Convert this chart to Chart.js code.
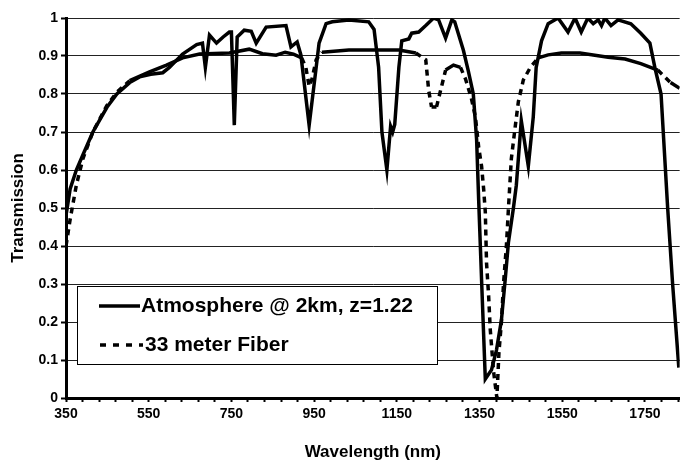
<!DOCTYPE html>
<html><head><meta charset="utf-8">
<script src="https://cdn.jsdelivr.net/npm/chart.js@4/dist/chart.umd.min.js"></script>
<style>html,body{margin:0;padding:0;background:#fff}#wrap{width:682px;height:463px;position:relative}</style>
</head><body><div id="wrap"><canvas id="c" width="682" height="463"></canvas></div>
<script>
const seriesNames = ['Atmosphere @ 2km, z=1.22', '33 meter Fiber'];
const atmWavelength = [350,360,375,391,415,449,473,504,528,555,584,600,632,666,680,687,697,714,730,745,750,757,764,781,798,810,834,882,894,909,918,938,955,962,979,994,1034,1082,1095,1106,1114,1126,1135,1140,1145,1155,1162,1179,1186,1203,1220,1239,1251,1268,1283,1290,1311,1323,1335,1343,1348,1355,1364,1379,1391,1403,1412,1420,1432,1439,1451,1468,1480,1487,1500,1516,1540,1564,1581,1596,1612,1625,1637,1645,1653,1668,1685,1716,1740,1762,1774,1789,1805,1817,1832];
const atmTransmission = [0.48,0.55,0.60,0.64,0.70,0.765,0.80,0.83,0.845,0.852,0.856,0.87,0.905,0.93,0.934,0.87,0.955,0.934,0.95,0.963,0.963,0.718,0.95,0.968,0.965,0.934,0.976,0.98,0.924,0.937,0.903,0.718,0.87,0.934,0.985,0.99,0.995,0.99,0.97,0.87,0.70,0.60,0.715,0.70,0.72,0.87,0.94,0.945,0.96,0.963,0.98,1.0,0.995,0.947,0.995,0.99,0.915,0.86,0.80,0.68,0.52,0.31,0.05,0.074,0.126,0.205,0.31,0.41,0.50,0.56,0.73,0.61,0.74,0.87,0.94,0.985,1.0,0.963,1.0,0.963,1.0,0.985,0.995,0.98,1.0,0.98,0.995,0.985,0.96,0.934,0.87,0.80,0.50,0.30,0.08];
const fiberWavelength = [350,360,375,391,415,449,473,504,552,593,632,673,745,793,825,858,880,900,920,930,938,945,955,969,1034,1155,1196,1220,1227,1234,1246,1256,1268,1287,1304,1316,1330,1340,1348,1355,1360,1364,1367,1372,1376,1384,1392,1397,1403,1408,1415,1420,1427,1437,1444,1456,1473,1492,1516,1548,1593,1661,1702,1740,1781,1812,1834];
const fiberTransmission = [0.40,0.47,0.56,0.63,0.70,0.77,0.805,0.835,0.858,0.876,0.895,0.905,0.908,0.918,0.906,0.902,0.91,0.905,0.895,0.87,0.82,0.84,0.89,0.91,0.916,0.916,0.908,0.89,0.81,0.766,0.766,0.81,0.863,0.876,0.87,0.84,0.79,0.74,0.66,0.61,0.55,0.49,0.355,0.27,0.18,0.07,0.0,0.12,0.20,0.30,0.40,0.50,0.63,0.72,0.78,0.837,0.87,0.895,0.903,0.908,0.908,0.897,0.892,0.88,0.863,0.83,0.815];
const xTickLabels = [350,550,750,950,1150,1350,1550,1750];
const yTickLabels = [0,0.1,0.2,0.3,0.4,0.5,0.6,0.7,0.8,0.9,1];
const xMinorStep = 40;
const X_MIN = 350, X_MAX = 1834;

const FONT = '"Liberation Sans", Arial, Helvetica, sans-serif';

function pts(xs, ys){ return xs.map((x,i)=>({x:x, y:ys[i]})); }

const legendPlugin = {
  id: 'boxLegend',
  afterDraw(chart){
    const ctx = chart.ctx;
    ctx.save();
    const bx=77.5, by=286.5, bw=360, bh=78;
    ctx.fillStyle='#fff';
    ctx.fillRect(bx,by,bw,bh);
    ctx.strokeStyle='#000'; ctx.lineWidth=1;
    ctx.strokeRect(bx,by,bw,bh);
    ctx.lineWidth=3.5; ctx.strokeStyle='#000';
    ctx.setLineDash([]);
    ctx.beginPath(); ctx.moveTo(99,306); ctx.lineTo(140,306); ctx.stroke();
    ctx.setLineDash([6,7]);
    ctx.beginPath(); ctx.moveTo(100,345); ctx.lineTo(143,345); ctx.stroke();
    ctx.setLineDash([]);
    ctx.fillStyle='#000';
    ctx.font='bold 21px '+FONT;
    ctx.textBaseline='middle'; ctx.textAlign='left';
    ctx.fillText(chart.data.datasets[0].label, 141, 306);
    ctx.fillText(chart.data.datasets[1].label, 145, 345);
    ctx.restore();
  }
};

new Chart(document.getElementById('c'), {
  type: 'line',
  data: {
    datasets: [
      { label: seriesNames[0], data: pts(atmWavelength, atmTransmission),
        borderColor:'#000', borderWidth:3.5, pointRadius:0, tension:0, fill:false },
      { label: seriesNames[1], data: pts(fiberWavelength, fiberTransmission),
        borderColor:'#000', borderWidth:3.5, pointRadius:0, tension:0, fill:false,
        segment: { borderDash: c => {
          const dx=c.p1.x-c.p0.x, dy=c.p1.y-c.p0.y;
          const L=Math.hypot(dx,dy);
          return (L>0 && Math.abs(dy)/L>0.55) ? [6,5] : undefined;
        } } }
    ]
  },
  options: {
    responsive:false, animation:false, devicePixelRatio:1,
    layout:{ padding:{ top:18, right:0, left:0, bottom:0 } },
    plugins:{ legend:{display:false}, tooltip:{enabled:false} },
    scales:{
      x:{
        type:'linear', min:X_MIN, max:X_MAX,
        afterBuildTicks: s => { const t=[]; for(let v=X_MIN; v<=X_MAX; v+=xMinorStep) t.push({value:v}); s.ticks=t; },
        afterFit: s => { s.height = 65; },
        ticks:{ autoSkip:false, maxRotation:0, padding:4, color:'#000',
          font:{family:FONT, size:14, weight:'bold'},
          callback: v => xTickLabels.includes(v) ? String(v) : '' },
        grid:{ drawOnChartArea:false, drawTicks:true, tickLength:4, tickColor:'#000', tickWidth:2 },
        border:{ display:true, color:'#000', width:3 },
        title:{ display:true, text:'Wavelength (nm)', color:'#000',
          font:{family:FONT, size:17, weight:'bold'}, padding:{top:3,bottom:0} }
      },
      y:{
        type:'linear', min:0, max:1,
        afterBuildTicks: s => { s.ticks = yTickLabels.map(v=>({value:v})); },
        afterFit: s => { s.width = 66; },
        ticks:{ padding:3, color:'#000', font:{family:FONT, size:14, weight:'bold'},
          callback: v => String(Math.round(v*10)/10) },
        grid:{ color:'#222', lineWidth:1, drawTicks:true, tickLength:5, tickColor:'#000', tickWidth:2 },
        border:{ display:true, color:'#000', width:3 },
        title:{ display:true, text:'Transmission', color:'#000',
          font:{family:FONT, size:17, weight:'bold'}, padding:{top:8,bottom:0} }
      }
    }
  },
  plugins:[legendPlugin]
});
</script></body></html>
